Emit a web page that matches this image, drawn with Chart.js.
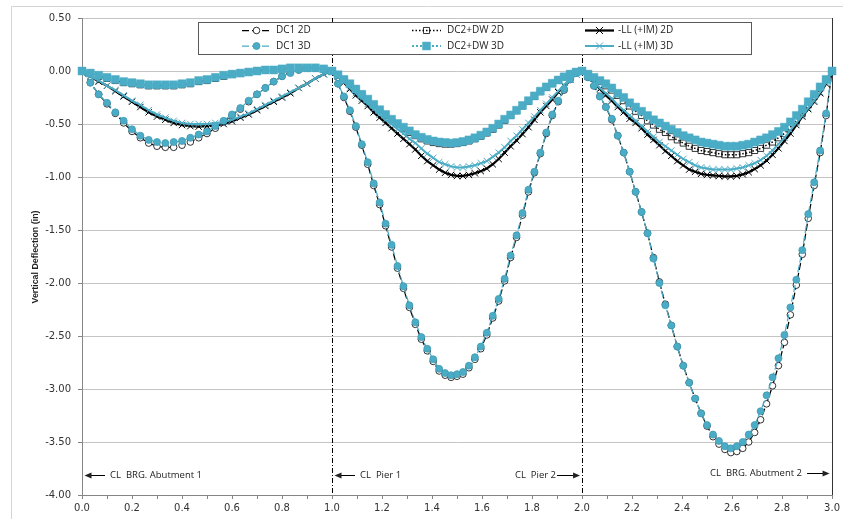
<!DOCTYPE html>
<html>
<head>
<meta charset="utf-8">
<script src="https://cdn.jsdelivr.net/npm/chart.js@4.4.1/dist/chart.umd.min.js"></script>
<style>
  html, body { margin: 0; padding: 0; background: #fff; }
  #wrap { width: 843px; height: 519px; }
</style>
</head>
<body>
<div id="wrap"><canvas id="deflChart" width="843" height="519"></canvas></div>
<script>
// node divisions per span (span 1, span 2, span 3) -> x stations 0..3
const spanDivisions = [30, 42, 42];

// span 1 (0.0 - 1.0)
const dc1_2D_s1 = [0, -0.11, -0.22, -0.31, -0.40, -0.49, -0.57, -0.63, -0.68, -0.71, -0.72, -0.72, -0.70, -0.67, -0.63, -0.59, -0.54, -0.48, -0.42, -0.36, -0.29, -0.22, -0.16, -0.10, -0.05, -0.01, 0.01, 0.03, 0.03, 0.02, 0];
const dc1_3D_s1 = [0, -0.11, -0.22, -0.30, -0.39, -0.47, -0.55, -0.61, -0.65, -0.67, -0.68, -0.67, -0.66, -0.63, -0.60, -0.57, -0.52, -0.47, -0.41, -0.35, -0.28, -0.22, -0.16, -0.10, -0.05, -0.02, 0.01, 0.03, 0.03, 0.02, 0];
const dc2_2D_s1 = [0, -0.02, -0.05, -0.07, -0.09, -0.11, -0.12, -0.13, -0.14, -0.14, -0.14, -0.14, -0.13, -0.12, -0.10, -0.09, -0.07, -0.05, -0.03, -0.02, -0.01, 0.00, 0.01, 0.01, 0.02, 0.03, 0.03, 0.03, 0.03, 0.02, 0];
const dc2_3D_s1 = [0, -0.02, -0.04, -0.06, -0.08, -0.10, -0.11, -0.12, -0.13, -0.13, -0.13, -0.13, -0.12, -0.11, -0.09, -0.08, -0.06, -0.04, -0.03, -0.02, -0.01, 0.00, 0.01, 0.01, 0.02, 0.03, 0.03, 0.03, 0.03, 0.02, 0];
const ll_2D_s1 = [0, -0.05, -0.10, -0.14, -0.19, -0.24, -0.29, -0.34, -0.39, -0.43, -0.46, -0.49, -0.51, -0.52, -0.525, -0.52, -0.515, -0.50, -0.475, -0.44, -0.41, -0.37, -0.33, -0.29, -0.25, -0.21, -0.16, -0.12, -0.07, -0.03, 0];
const ll_3D_s1 = [0, -0.05, -0.09, -0.14, -0.18, -0.23, -0.28, -0.32, -0.37, -0.41, -0.44, -0.47, -0.49, -0.50, -0.50, -0.50, -0.49, -0.48, -0.46, -0.43, -0.40, -0.36, -0.32, -0.28, -0.24, -0.20, -0.16, -0.12, -0.07, -0.03, 0];

// span 2 (1.0 - 2.0)
const dc1_2D_s2 = [0, -0.12, -0.25, -0.38, -0.53, -0.70, -0.88, -1.08, -1.26, -1.46, -1.66, -1.86, -2.05, -2.23, -2.39, -2.53, -2.64, -2.74, -2.83, -2.87, -2.89, -2.88, -2.86, -2.80, -2.72, -2.62, -2.49, -2.33, -2.17, -1.98, -1.76, -1.57, -1.36, -1.14, -0.96, -0.78, -0.59, -0.42, -0.29, -0.18, -0.08, -0.02, 0];
const dc1_3D_s2 = [0, -0.12, -0.24, -0.37, -0.52, -0.69, -0.86, -1.06, -1.24, -1.44, -1.64, -1.84, -2.03, -2.21, -2.37, -2.51, -2.62, -2.72, -2.81, -2.85, -2.87, -2.86, -2.84, -2.78, -2.70, -2.60, -2.47, -2.31, -2.15, -1.96, -1.74, -1.55, -1.34, -1.12, -0.95, -0.77, -0.58, -0.41, -0.28, -0.17, -0.08, -0.02, 0];
const dc2_2D_s2 = [0, -0.04, -0.08, -0.12, -0.17, -0.22, -0.27, -0.32, -0.37, -0.42, -0.46, -0.50, -0.54, -0.58, -0.61, -0.64, -0.66, -0.675, -0.685, -0.69, -0.69, -0.685, -0.675, -0.66, -0.64, -0.615, -0.585, -0.55, -0.51, -0.465, -0.42, -0.375, -0.33, -0.285, -0.24, -0.195, -0.155, -0.12, -0.085, -0.055, -0.03, -0.01, 0];
const dc2_3D_s2 = [0, -0.035, -0.08, -0.12, -0.17, -0.22, -0.265, -0.315, -0.365, -0.41, -0.455, -0.495, -0.53, -0.565, -0.60, -0.625, -0.645, -0.66, -0.67, -0.675, -0.68, -0.675, -0.665, -0.65, -0.63, -0.605, -0.575, -0.54, -0.50, -0.455, -0.415, -0.37, -0.325, -0.28, -0.235, -0.19, -0.15, -0.115, -0.085, -0.055, -0.03, -0.01, 0];
const ll_2D_s2 = [0, -0.05, -0.11, -0.17, -0.23, -0.28, -0.33, -0.39, -0.44, -0.49, -0.54, -0.59, -0.64, -0.69, -0.74, -0.80, -0.85, -0.89, -0.93, -0.96, -0.98, -0.99, -0.99, -0.98, -0.965, -0.945, -0.92, -0.88, -0.83, -0.77, -0.71, -0.655, -0.595, -0.53, -0.46, -0.39, -0.33, -0.27, -0.20, -0.14, -0.08, -0.03, 0];
const ll_3D_s2 = [0, -0.05, -0.10, -0.16, -0.21, -0.26, -0.31, -0.36, -0.41, -0.46, -0.50, -0.55, -0.59, -0.64, -0.68, -0.73, -0.78, -0.82, -0.86, -0.88, -0.90, -0.91, -0.91, -0.90, -0.89, -0.87, -0.85, -0.81, -0.77, -0.72, -0.66, -0.61, -0.55, -0.49, -0.43, -0.37, -0.31, -0.25, -0.19, -0.13, -0.08, -0.03, 0];

// span 3 (2.0 - 3.0)
const dc1_2D_s3 = [0, -0.06, -0.14, -0.24, -0.34, -0.46, -0.61, -0.77, -0.95, -1.14, -1.33, -1.53, -1.76, -1.99, -2.20, -2.40, -2.60, -2.78, -2.94, -3.09, -3.23, -3.35, -3.45, -3.52, -3.57, -3.60, -3.59, -3.56, -3.50, -3.41, -3.29, -3.14, -2.97, -2.78, -2.56, -2.30, -2.02, -1.73, -1.39, -1.08, -0.77, -0.42, 0];
const dc1_3D_s3 = [0, -0.06, -0.14, -0.24, -0.34, -0.45, -0.61, -0.77, -0.95, -1.14, -1.33, -1.53, -1.77, -2.00, -2.21, -2.40, -2.60, -2.78, -2.94, -3.09, -3.23, -3.34, -3.43, -3.49, -3.54, -3.56, -3.54, -3.50, -3.43, -3.34, -3.21, -3.06, -2.89, -2.71, -2.49, -2.23, -1.97, -1.69, -1.35, -1.05, -0.75, -0.40, 0];
const dc2_2D_s3 = [0, -0.03, -0.07, -0.10, -0.14, -0.18, -0.23, -0.28, -0.33, -0.38, -0.42, -0.47, -0.51, -0.55, -0.58, -0.62, -0.65, -0.68, -0.71, -0.73, -0.75, -0.76, -0.77, -0.78, -0.79, -0.79, -0.79, -0.78, -0.77, -0.75, -0.73, -0.70, -0.67, -0.63, -0.59, -0.53, -0.47, -0.40, -0.32, -0.24, -0.16, -0.08, 0];
const dc2_3D_s3 = [0, -0.03, -0.06, -0.09, -0.12, -0.16, -0.21, -0.25, -0.30, -0.34, -0.38, -0.42, -0.46, -0.49, -0.52, -0.55, -0.58, -0.61, -0.63, -0.65, -0.67, -0.68, -0.69, -0.70, -0.71, -0.71, -0.71, -0.70, -0.69, -0.67, -0.65, -0.63, -0.60, -0.57, -0.53, -0.48, -0.42, -0.36, -0.29, -0.22, -0.15, -0.08, 0];
const ll_2D_s3 = [0, -0.05, -0.11, -0.17, -0.23, -0.28, -0.34, -0.39, -0.45, -0.49, -0.54, -0.60, -0.65, -0.70, -0.755, -0.80, -0.85, -0.89, -0.93, -0.95, -0.97, -0.98, -0.985, -0.99, -0.995, -0.995, -0.99, -0.975, -0.955, -0.925, -0.89, -0.845, -0.79, -0.73, -0.66, -0.59, -0.51, -0.43, -0.36, -0.29, -0.21, -0.12, 0];
const ll_3D_s3 = [0, -0.05, -0.10, -0.16, -0.21, -0.26, -0.32, -0.37, -0.42, -0.47, -0.52, -0.57, -0.62, -0.67, -0.71, -0.75, -0.79, -0.83, -0.86, -0.89, -0.91, -0.92, -0.93, -0.93, -0.93, -0.93, -0.92, -0.91, -0.89, -0.87, -0.84, -0.80, -0.75, -0.69, -0.63, -0.56, -0.49, -0.42, -0.35, -0.28, -0.20, -0.11, 0];

const seriesNames = ["DC1 2D", "DC2+DW 2D", "-LL (+IM) 2D", "DC1 3D", "DC2+DW 3D", "-LL (+IM) 3D"];

// support lines and their labels
const supports = [
  { x: 0, text: "CL  BRG. Abutment 1", side: "right", line: null },
  { x: 1, text: "CL  Pier 1", side: "right", line: "dashdot" },
  { x: 2, text: "CL  Pier 2", side: "left", line: "dashdot" },
  { x: 3, text: "CL  BRG. Abutment 2", side: "left", line: "solid" },
];

const TEAL = "#4BACC6";

function buildStations(divs) {
  const xs = [0];
  divs.forEach((n, s) => {
    for (let i = 1; i <= n; i++) xs.push(s + i / n);
  });
  return xs;
}
const stations = buildStations(spanDivisions);

function joinSpans(a, b, c) {
  return a.concat(b.slice(1), c.slice(1));
}
function toPoints(vals) {
  return vals.map((y, i) => ({ x: stations[i], y: y }));
}

const dc1_2D = joinSpans(dc1_2D_s1, dc1_2D_s2, dc1_2D_s3);
const dc1_3D = joinSpans(dc1_3D_s1, dc1_3D_s2, dc1_3D_s3);
const dc2_2D = joinSpans(dc2_2D_s1, dc2_2D_s2, dc2_2D_s3);
const dc2_3D = joinSpans(dc2_3D_s1, dc2_3D_s2, dc2_3D_s3);
const ll_2D = joinSpans(ll_2D_s1, ll_2D_s2, ll_2D_s3);
const ll_3D = joinSpans(ll_3D_s1, ll_3D_s2, ll_3D_s3);

function drawMarker(c, style, x, y, r, fill, stroke, lw) {
  c.save();
  c.setLineDash([]);
  c.lineWidth = lw;
  c.strokeStyle = stroke;
  c.fillStyle = fill;
  c.beginPath();
  if (style === "circle") {
    c.arc(x, y, r, 0, Math.PI * 2);
    c.fill();
    c.stroke();
  } else if (style === "rect") {
    const s = r * Math.SQRT1_2;
    c.rect(x - s, y - s, 2 * s, 2 * s);
    c.fill();
    c.stroke();
  } else {
    const s = r * Math.SQRT1_2;
    c.moveTo(x - s, y - s);
    c.lineTo(x + s, y + s);
    c.moveTo(x - s, y + s);
    c.lineTo(x + s, y - s);
    c.stroke();
  }
  c.restore();
}

function arrow(c, x0, x1, y) {
  // line from x0 to x1 with head at x1
  const dir = Math.sign(x1 - x0);
  c.beginPath();
  c.moveTo(x0, y);
  c.lineTo(x1 - dir * 5, y);
  c.stroke();
  c.beginPath();
  c.moveTo(x1, y);
  c.lineTo(x1 - dir * 7, y - 3);
  c.lineTo(x1 - dir * 7, y + 3);
  c.closePath();
  c.fill();
}

const framePlugin = {
  id: "frame",
  beforeDraw(chart) {
    const c = chart.ctx;
    c.save();
    c.fillStyle = "#fff";
    c.fillRect(0, 0, chart.width, chart.height);
    c.strokeStyle = "#d4d4d4";
    c.lineWidth = 1;
    c.beginPath();
    c.moveTo(11.5, chart.height);
    c.lineTo(11.5, 6.5);
    c.lineTo(chart.width, 6.5);
    c.stroke();
    c.restore();
  },
  beforeDatasetsDraw(chart) {
    const c = chart.ctx;
    const xs = chart.scales.x;
    const top = chart.chartArea.top;
    const bottom = chart.chartArea.bottom;
    c.save();
    supports.forEach(s => {
      if (!s.line) return;
      const px = Math.round(xs.getPixelForValue(s.x)) + 0.5;
      c.strokeStyle = s.line === "solid" ? "#333" : "#000";
      c.lineWidth = 1;
      c.setLineDash(s.line === "solid" ? [] : [5, 2, 1, 2]);
      c.beginPath();
      c.moveTo(px, top);
      c.lineTo(px, bottom);
      c.stroke();
    });
    c.restore();
  },
  afterDraw(chart) {
    const c = chart.ctx;
    const xs = chart.scales.x;
    c.save();
    // support labels with arrows
    c.font = '9.5px "Open Sans"';
    c.fillStyle = "#222";
    c.strokeStyle = "#000";
    c.lineWidth = 1;
    c.textBaseline = "middle";
    supports.forEach(s => {
      const px = xs.getPixelForValue(s.x);
      const y = s.x === 3 ? 473.5 : 475.5;
      if (s.side === "right") {
        arrow(c, px + 23, px + 2.5, y);
        c.textAlign = "left";
        c.fillText(s.text, px + 28, y);
      } else {
        const off = s.x === 3 ? 2.5 : 2;
        arrow(c, px - 25, px - off, y);
        c.textAlign = "right";
        c.fillText(s.text, px - (s.x === 3 ? 30 : 26), y);
      }
    });

    // y axis title
    c.save();
    c.translate(36, 257);
    c.rotate(-Math.PI / 2);
    c.font = 'bold 9px "Liberation Sans Narrow", "Liberation Sans", Arial';
    c.textAlign = "center";
    c.textBaseline = "middle";
    c.fillStyle = "#222";
    c.fillText("Vertical Deflection (in)", 0, 0, 93);
    c.restore();

    // legend box
    c.fillStyle = "#fff";
    c.fillRect(198.5, 22.5, 553, 32);
    c.strokeStyle = "#595959";
    c.strokeRect(198.5, 22.5, 553, 32);
    const colX = [242, 412, 585];
    const textX = [276, 447, 618];
    const rowY = [30.5, 46];
    chart.data.datasets.forEach((ds, i) => {
      const col = i % 3;
      const row = Math.floor(i / 3);
      const x0 = colX[col];
      const y = rowY[row];
      c.save();
      c.strokeStyle = ds.borderColor;
      c.lineWidth = ds.borderWidth;
      c.setLineDash(ds.borderDash || []);
      c.beginPath();
      c.moveTo(x0, y);
      c.lineTo(x0 + 29, y);
      c.stroke();
      c.restore();
      drawMarker(c, ds.pointStyle, x0 + 14.5, y, ds.legendRadius,
        ds.pointBackgroundColor, ds.pointBorderColor, ds.pointBorderWidth);
      c.font = '10px "Open Sans"';
      c.fillStyle = "#222";
      c.textAlign = "left";
      c.textBaseline = "middle";
      c.fillText(ds.label, textX[col], y);
    });
    c.restore();
  }
};

const ctx = document.getElementById("deflChart");
const myChart = new Chart(ctx, {
  type: "line",
  data: {
    datasets: [
      {
        label: seriesNames[0],
        data: toPoints(dc1_2D),
        borderColor: "#000",
        borderWidth: 1.25,
        borderDash: [7, 3],
        pointStyle: "circle",
        pointRadius: 3.3,
        legendRadius: 3.3,
        pointBackgroundColor: "#fff",
        pointBorderColor: "#000",
        pointBorderWidth: 0.8,
        order: 6,
      },
      {
        label: seriesNames[1],
        data: toPoints(dc2_2D),
        borderColor: "#000",
        borderWidth: 1.5,
        borderDash: [1.5, 2],
        pointStyle: "rect",
        pointRadius: 4.3,
        legendRadius: 4.3,
        pointBackgroundColor: "rgba(255,255,255,0)",
        pointBorderColor: "#000",
        pointBorderWidth: 0.8,
        order: 5,
      },
      {
        label: seriesNames[2],
        data: toPoints(ll_2D),
        borderColor: "#000",
        borderWidth: 2.25,
        pointStyle: "crossRot",
        pointRadius: 4.5,
        legendRadius: 5,
        pointBackgroundColor: "#000",
        pointBorderColor: "#000",
        pointBorderWidth: 1,
        order: 4,
      },
      {
        label: seriesNames[3],
        data: toPoints(dc1_3D),
        borderColor: TEAL,
        borderWidth: 1.25,
        borderDash: [7, 3],
        pointStyle: "circle",
        pointRadius: 3.5,
        legendRadius: 3.5,
        pointBackgroundColor: TEAL,
        pointBorderColor: "#3f9bb4",
        pointBorderWidth: 0.8,
        order: 3,
      },
      {
        label: seriesNames[4],
        data: toPoints(dc2_3D),
        borderColor: TEAL,
        borderWidth: 2,
        borderDash: [2, 2],
        pointStyle: "rect",
        pointRadius: 5.6,
        legendRadius: 5.6,
        pointBackgroundColor: TEAL,
        pointBorderColor: TEAL,
        pointBorderWidth: 0.5,
        order: 2,
      },
      {
        label: seriesNames[5],
        data: toPoints(ll_3D),
        borderColor: TEAL,
        borderWidth: 2,
        pointStyle: "crossRot",
        pointRadius: 4.5,
        legendRadius: 5,
        pointBackgroundColor: TEAL,
        pointBorderColor: TEAL,
        pointBorderWidth: 1,
        order: 1,
      },
    ],
  },
  options: {
    responsive: false,
    animation: false,
    events: [],
    clip: false,
    layout: { padding: { left: 12, right: 9, top: 18, bottom: 0 } },
    plugins: {
      legend: { display: false },
      tooltip: { enabled: false },
    },
    scales: {
      x: {
        type: "linear",
        min: 0,
        max: 3,
        ticks: {
          stepSize: 0.1,
          autoSkip: false,
          maxRotation: 0,
          padding: 3,
          color: "#333",
          font: { family: "DejaVu Sans", size: 10 },
          callback: v => (Math.round(v * 10) % 2 === 0 ? v.toFixed(1) : ""),
        },
        grid: { drawOnChartArea: false, drawTicks: true, tickLength: 4, tickColor: "#868686" },
        border: { color: "#868686" },
        afterFit(s) { s.height = 24; },
      },
      y: {
        min: -4,
        max: 0.5,
        ticks: {
          stepSize: 0.5,
          padding: 7,
          color: "#333",
          font: { family: "DejaVu Sans", size: 10 },
          callback: v => v.toFixed(2),
        },
        grid: { color: "#c4c4c4", tickColor: "#868686", tickLength: 4 },
        border: { color: "#868686" },
        afterFit(s) { s.width = 70; },
      },
    },
  },
  plugins: [framePlugin],
});
</script>
</body>
</html>
